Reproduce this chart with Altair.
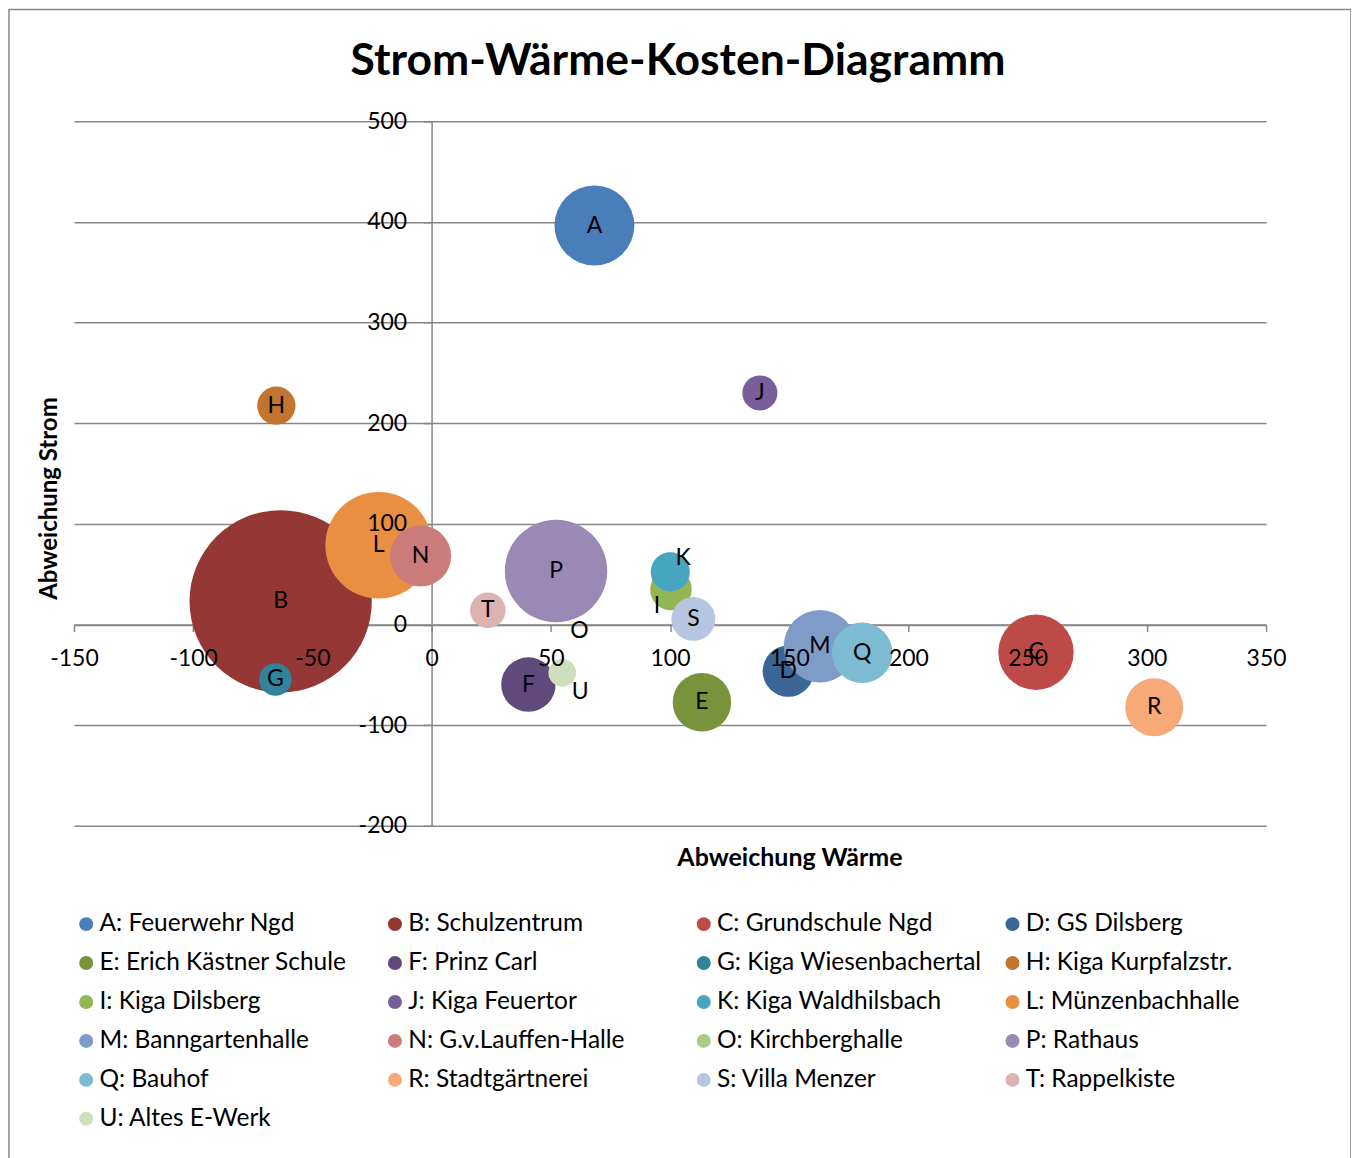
import altair as alt
import pandas as pd

# ---------------- data ----------------
letters = ["A", "B", "C", "D", "E", "F", "G", "H", "I", "J", "K",
           "L", "M", "N", "O", "P", "Q", "R", "S", "T", "U"]
buildings = ["Feuerwehr Ngd", "Schulzentrum", "Grundschule Ngd", "GS Dilsberg",
             "Erich Kästner Schule", "Prinz Carl", "Kiga Wiesenbachertal",
             "Kiga Kurpfalzstr.", "Kiga Dilsberg", "Kiga Feuertor",
             "Kiga Waldhilsbach", "Münzenbachhalle", "Banngartenhalle",
             "G.v.Lauffen-Halle", "Kirchberghalle", "Rathaus", "Bauhof",
             "Stadtgärtnerei", "Villa Menzer", "Rappelkiste", "Altes E-Werk"]
# Abweichung Wärme (x)
waerme = [68.3, -63.3, 253.5, 149.6, 113.4, 40.6, -65.5, -65.1, 100.4, 137.7, 100.1,
          -22.2, 162.9, -4.6, 62.0, 52.2, 180.6, 303.1, 109.8, 23.6, 54.8]
# Abweichung Strom (y)
strom = [396.5, 23.1, -27.5, -46.4, -77.2, -59.6, -54.6, 217.5, 34.8, 230.1, 52.3,
         78.8, -21.5, 68.1, -6.0, 53.2, -28.1, -82.1, 5.6, 14.2, -48.0]
# Kosten (bubble size)
kosten = [19.2, 100.0, 17.1, 7.9, 10.3, 8.9, 3.2, 4.4, 5.2, 3.7, 4.6,
          34.2, 15.8, 11.2, 0.0, 31.6, 11.0, 10.1, 5.8, 3.8, 2.3]
# data-label shifts (in data units) for the labels moved off their bubble
label_shift_w = [0, 0, 0, 0, 0, 0, 0, 0, -5.9, 0, 5.4,
                 0, 0, 0, 0, 0, 0, 0, 0, 0, 7.5]
label_shift_s = [0, 0, 0, 0, 0, 0, 0, 0, -16.0, 0, 14.0,
                 0, 0, 0, 0, 0, 0, 0, 0, 0, -19.0]
colors = ["#4A7EBB", "#953735", "#BE4B48", "#3B6696", "#77933C", "#604A7B",
          "#31849B", "#C3742F", "#93B553", "#785F9B", "#46A5BF", "#E88F42",
          "#7F9CC8", "#CB7C7A", "#ADC985", "#9A88B5", "#7CBBD1", "#F7AA78",
          "#B6C5E0", "#DDB3B2", "#CFDEBC"]
x_ticks = [-150, -100, -50, 0, 50, 100, 150, 200, 250, 300, 350]
y_ticks = [-200, -100, 0, 100, 200, 300, 400, 500]

names = [f"{l}: {b}" for l, b in zip(letters, buildings)]
df = pd.DataFrame({
    "letter": letters,
    "name": names,
    "waerme": waerme,
    "strom": strom,
    "kosten": kosten,
    "lx": [w + d for w, d in zip(waerme, label_shift_w)],
    "ly": [s + d for s, d in zip(strom, label_shift_s)],
})

# ---------------- layout ----------------
W, H = 1193, 705
FONT = "Lato"
GRID = "#868686"
x_axis_offset = -H * 200 / 700   # move x axis up to y = 0
y_axis_offset = -W * 150 / 500   # move y axis right to x = 0

xscale = alt.Scale(domain=[-150, 350], nice=False, zero=False)
yscale = alt.Scale(domain=[-200, 500], nice=False, zero=False)

base = alt.Chart(df)

bubbles = base.mark_circle(opacity=1).encode(
    x=alt.X("waerme:Q", scale=xscale,
            axis=alt.Axis(orient="bottom", offset=x_axis_offset, values=x_ticks,
                          grid=False, domain=True, domainColor=GRID, domainWidth=1.5,
                          ticks=True, tickColor=GRID, tickWidth=1.5, tickSize=7,
                          labels=False, title=None, zindex=0)),
    y=alt.Y("strom:Q", scale=yscale,
            axis=alt.Axis(orient="left", offset=y_axis_offset, values=y_ticks,
                          grid=True, gridColor=GRID, gridWidth=1.5,
                          domain=True, domainColor=GRID, domainWidth=1.5,
                          ticks=True, tickColor=GRID, tickWidth=1.5, tickSize=8,
                          labels=False, title=None, zindex=0)),
    size=alt.Size("kosten:Q", scale=alt.Scale(domain=[0, 100], range=[0, 33270], zero=True),
                  legend=None),
    color=alt.Color("name:N", sort=names,
                    scale=alt.Scale(domain=names, range=colors),
                    legend=alt.Legend(orient="none", legendX=0, legendY=791,
                                      direction="horizontal",
                                      columns=4, gridAlign="all", title=None,
                                      symbolType="circle", symbolSize=196,
                                      symbolOpacity=1, symbolStrokeWidth=0,
                                      labelFont=FONT, labelFontSize=24.5,
                                      labelColor="black", labelOffset=1,
                                      labelLimit=0, rowPadding=14,
                                      columnPadding=18, padding=0)),
    order=alt.Order("letter:N"),
)

labels = base.mark_text(font=FONT, fontSize=23, color="black",
                        align="center", baseline="middle").encode(
    x=alt.X("lx:Q", scale=xscale,
            axis=alt.Axis(orient="bottom", offset=x_axis_offset, values=x_ticks,
                          grid=False, domain=False, ticks=False, tickSize=0,
                          labels=True, labelFont=FONT, labelFontSize=23,
                          labelColor="black", labelPadding=23,
                          labelExpr="'' + datum.value",
                          labelOverlap=False, labelFlush=False,
                          title=None, zindex=1)),
    y=alt.Y("ly:Q", scale=yscale,
            axis=alt.Axis(orient="left", offset=y_axis_offset, values=y_ticks,
                          grid=False, domain=False, ticks=False, tickSize=0,
                          labels=True, labelFont=FONT, labelFontSize=23,
                          labelColor="black", labelPadding=25,
                          labelExpr="'' + datum.value",
                          labelOverlap=False, labelFlush=False,
                          title=None, zindex=1)),
    text="letter:N",
)

titles = base.mark_point(opacity=0).encode(
    x=alt.X("waerme:Q", scale=xscale,
            axis=alt.Axis(orient="bottom", offset=0, grid=False, domain=False,
                          ticks=False, labels=False, title="Abweichung Wärme",
                          titleFont=FONT, titleFontSize=25, titleFontWeight="bold",
                          titleColor="black", titlePadding=20, titleX=716,
                          titleAnchor="start", titleAlign="center")),
    y=alt.Y("strom:Q", scale=yscale,
            axis=alt.Axis(orient="left", offset=0, grid=False, domain=False,
                          ticks=False, labels=False, title="Abweichung Strom",
                          titleFont=FONT, titleFontSize=24, titleFontWeight="bold",
                          titleColor="black", titlePadding=12, titleY=377,
                          titleAnchor="start", titleAlign="center")),
)

frame = alt.Chart(pd.DataFrame({"f": [0]})).mark_rect(
    fill="transparent", stroke="#878787", strokeWidth=1.5
).encode(x=alt.value(-65), x2=alt.value(1278), y=alt.value(-112), y2=alt.value(1045))

chart = alt.layer(bubbles, labels, titles, frame).resolve_axis(
    x="independent", y="independent"
).properties(
    width=W, height=H,
    padding={"left": 66, "top": 113, "right": 85, "bottom": 332},
    autosize=alt.AutoSizeParams(type="none"),
    title=alt.TitleParams("Strom-Wärme-Kosten-Diagramm", font=FONT, fontSize=44.5,
                          fontWeight="bold", color="black", anchor="middle",
                          frame="group", offset=20, dx=8, dy=96),
    background="white",
).configure_view(stroke=None)

chart.save("out.html", embed_options={"renderer": "svg", "actions": False})
